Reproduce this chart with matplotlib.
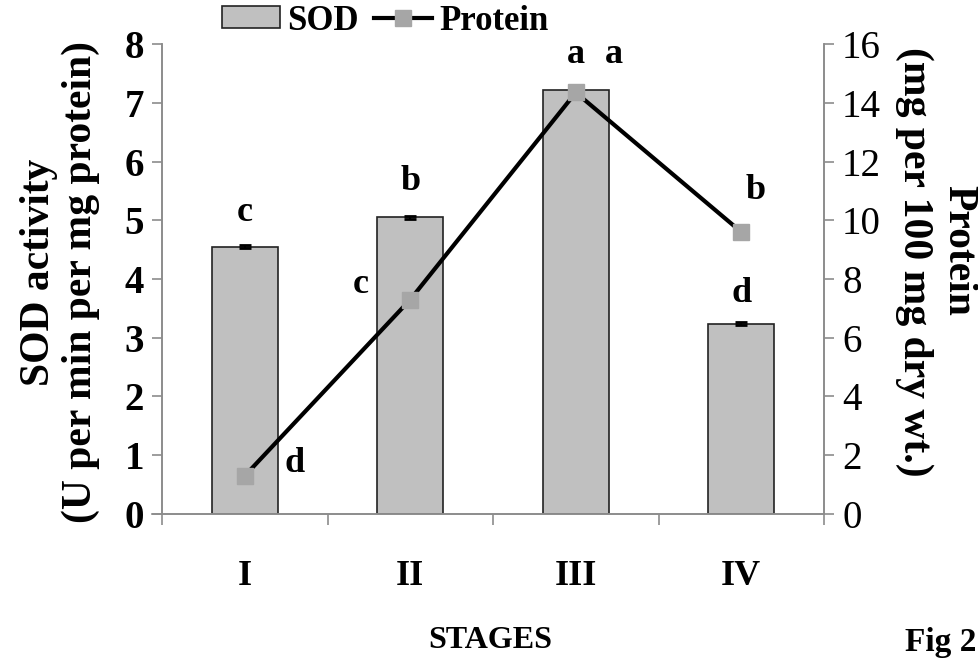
import matplotlib
matplotlib.use("Agg")
import matplotlib.pyplot as plt
import numpy as np
from matplotlib.lines import Line2D
from matplotlib.patches import Patch

stages = ["I", "II", "III", "IV"]
sod = [4.55, 5.05, 7.22, 3.24]
sod_err = [0.03, 0.03, 0.03, 0.03]
protein = [1.3, 7.3, 14.35, 9.6]
sod_letters = ["c", "b", "a", "d"]
protein_letters = ["d", "c", "a", "b"]
left_ticks = [0, 1, 2, 3, 4, 5, 6, 7, 8]
right_ticks = [0, 2, 4, 6, 8, 10, 12, 14, 16]

plt.rcParams['font.family'] = ['Liberation Serif', 'DejaVu Serif']

fig = plt.figure(figsize=(9.79, 6.65), dpi=100)
ax = fig.add_axes([0.1655, 0.2271, 0.6762, 0.7067])
ax2 = ax.twinx()

x = np.arange(len(stages))
gray = '#8c8c8c'
ax.bar(x, sod, width=0.4, color='#c0c0c0', edgecolor='#222222', linewidth=1.2, zorder=2)
ax.errorbar(x, sod, yerr=sod_err, fmt='none', ecolor='black', elinewidth=1.5, capsize=4, capthick=2, zorder=3)
ax.set_xlim(-0.5, 3.5)
ax.set_ylim(0, 8)
ax.set_yticks(left_ticks)
ax.set_yticklabels([str(t) for t in left_ticks], fontsize=28, fontweight='bold')
ax.set_xticks(np.arange(-0.5, 4.0, 1.0))
ax.set_xticklabels([])
ax.tick_params(axis='x', direction='out', length=8, color=gray, width=1.2)
ax.tick_params(axis='y', direction='out', length=7, color=gray, width=1.2, pad=6)
ax.plot([-0.015, 0], [0, 0], transform=ax.transAxes, color=gray, linewidth=1.2, clip_on=False)
for xi, s in zip(x, stages):
    ax.text(xi, -1.07, s, ha='center', va='center', fontsize=26, fontweight='bold')

ax2.plot(x, protein, color='black', linewidth=3, marker='s', markersize=12,
         markerfacecolor='#a6a6a6', markeredgecolor='#a6a6a6', zorder=4)
ax2.set_ylim(0, 16)
ax2.set_yticks(right_ticks)
ax2.set_yticklabels([str(t) for t in right_ticks], fontsize=28)
ax2.tick_params(axis='y', direction='out', length=7, color=gray, width=1.2, pad=6)

for a in (ax, ax2):
    a.spines['top'].set_visible(False)
    for s in ('left', 'right', 'bottom'):
        a.spines[s].set_color(gray)
        a.spines[s].set_linewidth(1.2)

# letters for SOD bars
sod_offsets = [(0, 34), (0, 36), (0, 35), (0, 30)]
for xi, v, l, off in zip(x, sod, sod_letters, sod_offsets):
    ax.annotate(l, (xi, v), xytext=off, textcoords='offset pixels', ha='center', va='center',
                fontsize=26, fontweight='bold')
# letters for protein points
prot_offsets = [(50, 12), (-50, 15), (38, 38), (14, 42)]
for xi, v, l, off in zip(x, protein, protein_letters, prot_offsets):
    ax2.annotate(l, (xi, v), xytext=off, textcoords='offset pixels', ha='center', va='center',
                 fontsize=26, fontweight='bold')

# axis labels
fig.text(39 / 979, 1 - 272 / 665, "SOD activity", rotation=90, ha='center', va='center',
         fontsize=30, fontweight='bold')
fig.text(81 / 979, 1 - 282 / 665, "(U per min per mg protein)", rotation=90, ha='center', va='center',
         fontsize=30, fontweight='bold')
fig.text(958 / 979, 1 - 250 / 665, "Protein", rotation=-90, ha='center', va='center',
         fontsize=30, fontweight='bold')
fig.text(914 / 979, 1 - 262 / 665, "(mg per 100 mg dry wt.)", rotation=-90, ha='center', va='center',
         fontsize=30, fontweight='bold')
fig.text(490 / 979, 1 - 640 / 665, "STAGES", ha='center', va='center', fontsize=23, fontweight='bold')
fig.text(905 / 979, 1 - 643 / 665, "Fig 2", ha='left', va='center', fontsize=24, fontweight='bold')

handles = [Patch(facecolor='#c0c0c0', edgecolor='#222222', linewidth=1.2, label='SOD'),
           Line2D([0], [0], color='black', linewidth=3, marker='s', markersize=12,
                  markerfacecolor='#a6a6a6', markeredgecolor='#a6a6a6', label='Protein')]
fig.legend(handles=handles, loc='center', bbox_to_anchor=(385 / 979, 1 - 21 / 665), ncol=2,
           frameon=False, prop={'size': 25, 'weight': 'bold'}, handlelength=1.67, handleheight=0.58,
           columnspacing=0.45, handletextpad=0.2, borderpad=0)

fig.savefig("out.png", dpi=100)
